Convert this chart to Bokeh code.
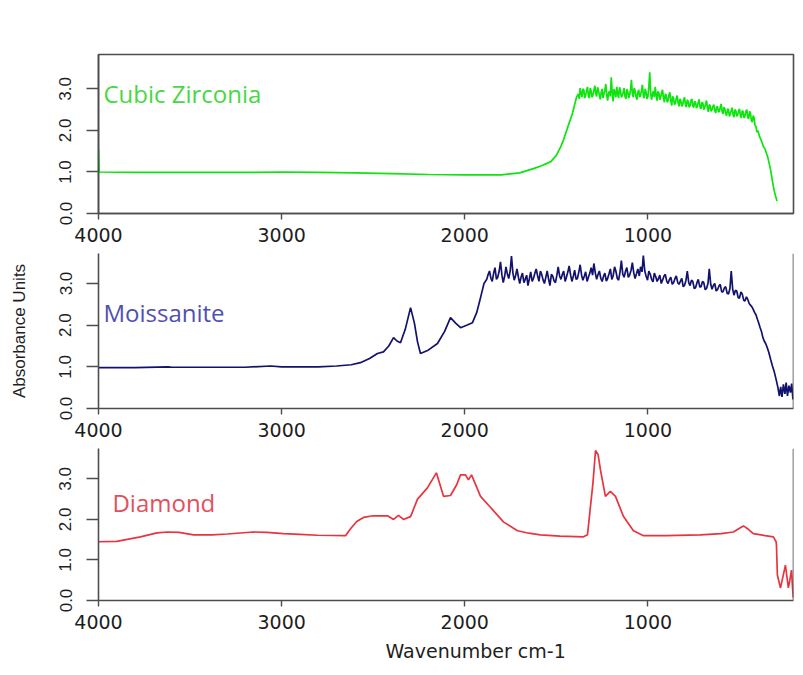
from bokeh.plotting import figure
from bokeh.layouts import column
from bokeh.models import Range1d, FixedTicker, Span, Label, Title
from bokeh.embed import file_html
from bokeh.resources import INLINE

# ---------------- data (wavenumber cm-1, absorbance) ----------------
x_ticks = [1000, 2000, 3000, 4000]
y_ticks = [0, 1, 2, 3]
y_tick_labels = ["0.0", "1.0", "2.0", "3.0"]

series_names = ["Cubic Zirconia", "Moissanite", "Diamond"]
x_title = "Wavenumber cm-1"
y_title = "Absorbance Units"

cz_points = [
    (4000, 1.55), (3996, 1.0), (3800, 0.99), (3600, 0.99), (3400, 0.99), (3200, 0.99),
    (3000, 1.0), (2800, 0.99), (2600, 0.98), (2400, 0.96), (2200, 0.94), (2000, 0.93),
    (1900, 0.93), (1800, 0.93), (1700, 0.98), (1625, 1.08), (1580, 1.15), (1530, 1.25),
    (1500, 1.4), (1477, 1.6), (1460, 1.78), (1440, 2.05), (1412, 2.41), (1390, 2.8),
    (1380, 2.88), (1375, 2.76), (1370, 3.02), (1365, 2.90), (1360, 2.80), (1355, 3.00),
    (1350, 2.98), (1345, 2.78), (1340, 2.85), (1335, 2.95), (1330, 3.05), (1325, 2.84),
    (1320, 2.78), (1315, 3.02), (1310, 2.95), (1305, 2.80), (1300, 2.86), (1295, 2.96),
    (1290, 3.08), (1285, 2.90), (1280, 2.82), (1275, 3.04), (1270, 2.97), (1265, 2.84),
    (1260, 2.75), (1255, 2.92), (1250, 3.00), (1245, 2.78), (1240, 2.88), (1235, 2.96),
    (1230, 3.12), (1225, 2.86), (1220, 2.72), (1215, 2.90), (1210, 2.95), (1205, 2.82),
    (1200, 3.28), (1195, 2.92), (1190, 2.70), (1185, 3.00), (1180, 2.92), (1175, 2.80),
    (1170, 3.05), (1165, 2.88), (1160, 2.78), (1155, 3.04), (1150, 2.96), (1145, 2.80),
    (1140, 2.84), (1135, 2.92), (1130, 3.02), (1125, 2.82), (1120, 2.76), (1115, 3.00),
    (1110, 2.94), (1105, 2.78), (1100, 2.85), (1095, 2.98), (1090, 3.22), (1085, 2.90),
    (1080, 2.80), (1075, 3.02), (1070, 2.96), (1065, 2.82), (1060, 2.74), (1055, 2.92),
    (1050, 2.98), (1045, 2.80), (1040, 2.86), (1035, 2.96), (1030, 3.10), (1025, 2.84),
    (1020, 2.78), (1015, 3.00), (1010, 2.92), (1005, 2.76), (1000, 2.82), (995, 3.05),
    (990, 3.40), (985, 2.90), (980, 2.74), (975, 2.88), (970, 2.95), (965, 2.80),
    (960, 3.05), (955, 2.86), (950, 2.72), (945, 2.94), (940, 2.90), (935, 2.74),
    (930, 2.80), (925, 2.92), (920, 2.98), (915, 2.78), (910, 2.68), (905, 2.88),
    (900, 2.85), (895, 2.68), (890, 2.72), (885, 2.86), (880, 2.92), (875, 2.72),
    (870, 2.60), (865, 2.82), (860, 2.78), (855, 2.62), (850, 2.66), (845, 2.78),
    (840, 2.84), (835, 2.66), (830, 2.58), (825, 2.76), (820, 2.72), (815, 2.58),
    (810, 2.62), (805, 2.74), (800, 2.80), (795, 2.62), (790, 2.56), (785, 2.74),
    (780, 2.70), (775, 2.56), (770, 2.60), (765, 2.72), (760, 2.76), (755, 2.60),
    (750, 2.55), (745, 2.70), (740, 2.68), (735, 2.54), (730, 2.58), (725, 2.68),
    (720, 2.75), (715, 2.56), (710, 2.52), (705, 2.68), (700, 2.66), (695, 2.50),
    (690, 2.56), (685, 2.64), (680, 2.72), (675, 2.54), (670, 2.45), (665, 2.62),
    (660, 2.60), (655, 2.46), (650, 2.50), (645, 2.58), (640, 2.62), (635, 2.48),
    (630, 2.42), (625, 2.56), (620, 2.58), (615, 2.44), (610, 2.46), (605, 2.56),
    (600, 2.64), (595, 2.46), (590, 2.40), (585, 2.56), (580, 2.52), (575, 2.40),
    (570, 2.36), (565, 2.52), (560, 2.50), (555, 2.34), (550, 2.40), (545, 2.48),
    (540, 2.55), (535, 2.38), (530, 2.32), (525, 2.50), (520, 2.48), (515, 2.34),
    (510, 2.38), (505, 2.46), (500, 2.52), (495, 2.36), (490, 2.30), (485, 2.48),
    (480, 2.45), (475, 2.30), (470, 2.35), (465, 2.46), (460, 2.50), (455, 2.32),
    (450, 2.28), (445, 2.46), (440, 2.42), (435, 2.24), (430, 2.20), (425, 2.36),
    (420, 2.30), (415, 2.12), (410, 2.10), (405, 1.96), (400, 2.00), (390, 1.85),
    (380, 1.75), (370, 1.62), (360, 1.55), (345, 1.35), (330, 1.05), (315, 0.65),
    (305, 0.45), (295, 0.30),
]

mo_points = [
    (4000, 0.98), (3800, 0.98), (3620, 1.0), (3600, 0.99), (3400, 0.99), (3200, 0.99),
    (3060, 1.02), (3000, 1.0), (2800, 1.0), (2700, 1.02), (2620, 1.05), (2570, 1.1),
    (2520, 1.2), (2477, 1.32), (2444, 1.36), (2415, 1.5), (2389, 1.70), (2370, 1.62),
    (2351, 1.58), (2325, 1.9), (2296, 2.42), (2275, 2.05), (2258, 1.6), (2242, 1.32),
    (2200, 1.4), (2149, 1.56), (2110, 1.85), (2078, 2.18), (2050, 2.05), (2023, 1.94),
    (1990, 2.0), (1958, 2.06), (1935, 2.3), (1914, 2.66), (1895, 3.0),
    (1880, 3.10), (1872, 3.22), (1865, 3.30), (1857, 3.12), (1850, 3.05), (1842, 3.26),
    (1835, 3.38), (1827, 3.10), (1820, 3.15), (1812, 3.30), (1805, 3.52), (1797, 3.20),
    (1790, 3.02), (1782, 3.18), (1775, 3.40), (1767, 3.22), (1760, 3.12), (1752, 3.30),
    (1745, 3.66), (1737, 3.25), (1730, 3.08), (1722, 3.20), (1715, 3.35), (1707, 3.15),
    (1700, 3.00), (1692, 3.16), (1685, 3.25), (1677, 3.02), (1670, 3.10), (1662, 3.20),
    (1655, 2.95), (1647, 3.12), (1640, 3.28), (1632, 3.05), (1625, 3.12), (1617, 3.25),
    (1610, 3.35), (1602, 3.18), (1595, 3.05), (1587, 3.30), (1580, 3.22), (1572, 3.08),
    (1565, 3.00), (1557, 3.16), (1550, 3.30), (1542, 3.10), (1535, 2.95), (1527, 3.22),
    (1520, 3.18), (1512, 3.06), (1505, 3.02), (1497, 3.20), (1490, 3.40), (1482, 3.18),
    (1475, 3.10), (1467, 3.22), (1460, 3.30), (1452, 3.05), (1445, 3.15), (1437, 3.28),
    (1430, 3.42), (1422, 3.20), (1415, 3.05), (1407, 3.18), (1400, 3.32), (1392, 3.10),
    (1385, 3.12), (1377, 3.28), (1370, 3.45), (1362, 3.20), (1355, 3.08), (1347, 3.18),
    (1340, 3.28), (1332, 3.05), (1325, 3.15), (1317, 3.25), (1310, 3.38), (1302, 3.20),
    (1295, 3.48), (1287, 3.25), (1280, 3.10), (1272, 3.22), (1265, 3.30), (1257, 3.12),
    (1250, 3.05), (1242, 3.18), (1235, 3.25), (1227, 3.06), (1220, 3.12), (1212, 3.24),
    (1205, 3.35), (1197, 3.10), (1190, 3.18), (1182, 3.40), (1175, 3.30), (1167, 3.12),
    (1160, 3.08), (1152, 3.28), (1145, 3.55), (1137, 3.22), (1130, 3.15), (1122, 3.30),
    (1115, 3.38), (1107, 3.15), (1100, 3.20), (1092, 3.32), (1085, 3.50), (1077, 3.25),
    (1070, 3.12), (1062, 3.24), (1055, 3.35), (1047, 3.18), (1040, 3.40), (1032, 3.28),
    (1025, 3.67), (1017, 3.30), (1010, 3.18), (1002, 3.08), (995, 3.30), (987, 3.22),
    (980, 3.10), (972, 3.04), (965, 3.25), (957, 3.16), (950, 3.05), (942, 3.12),
    (935, 3.20), (927, 3.00), (920, 3.08), (912, 3.18), (905, 3.22), (897, 3.05),
    (890, 3.00), (882, 3.10), (875, 3.15), (867, 2.98), (860, 3.02), (852, 3.12),
    (845, 3.18), (837, 3.02), (830, 2.98), (822, 3.06), (815, 3.12), (807, 2.92),
    (800, 2.96), (792, 3.08), (785, 3.30), (777, 3.02), (770, 2.95), (762, 3.08),
    (755, 3.05), (747, 2.88), (740, 2.90), (732, 3.02), (725, 3.10), (717, 2.92),
    (710, 2.92), (702, 3.05), (695, 3.02), (687, 2.85), (680, 2.88), (672, 3.00),
    (665, 3.35), (657, 2.98), (650, 2.86), (642, 2.96), (635, 3.00), (627, 2.82),
    (620, 2.85), (612, 2.94), (605, 2.98), (597, 2.80), (590, 2.80), (582, 2.90),
    (575, 2.92), (567, 2.76), (560, 2.75), (552, 2.88), (545, 3.30), (537, 2.86),
    (530, 2.72), (522, 2.84), (515, 2.82), (507, 2.66), (500, 2.65), (492, 2.80),
    (485, 2.75), (477, 2.60), (470, 2.58), (462, 2.68), (455, 2.62), (447, 2.52),
    (440, 2.48), (432, 2.44), (425, 2.38), (417, 2.30), (410, 2.25), (402, 2.14),
    (395, 2.05), (387, 1.94), (380, 1.85), (372, 1.70), (365, 1.62), (357, 1.56),
    (350, 1.48), (340, 1.35), (330, 1.18), (320, 1.02), (310, 0.88), (300, 0.70),
    (290, 0.50), (282, 0.30), (275, 0.52), (268, 0.28), (260, 0.58), (252, 0.35),
    (245, 0.62), (238, 0.30), (230, 0.55), (222, 0.38), (215, 0.60), (208, 0.22),
]

di_points = [
    (4000, 1.45), (3900, 1.46), (3771, 1.57), (3680, 1.67), (3623, 1.69), (3560, 1.68),
    (3481, 1.62), (3380, 1.62), (3296, 1.64), (3154, 1.69), (3080, 1.68), (2990, 1.65),
    (2900, 1.63), (2804, 1.61), (2651, 1.60), (2624, 1.77), (2590, 1.95), (2553, 2.05),
    (2500, 2.09), (2422, 2.09), (2389, 2.0), (2362, 2.1), (2335, 2.0), (2296, 2.07),
    (2258, 2.5), (2204, 2.78), (2155, 3.15), (2116, 2.57), (2078, 2.59), (2045, 2.85),
    (2023, 3.1), (1996, 3.1), (1980, 2.98), (1963, 3.1), (1914, 2.57), (1860, 2.3),
    (1789, 1.94), (1712, 1.72), (1650, 1.66), (1587, 1.62), (1480, 1.59), (1352, 1.57),
    (1330, 1.62), (1300, 2.9), (1286, 3.7), (1272, 3.6), (1259, 3.22), (1232, 2.57),
    (1205, 2.69), (1177, 2.57), (1134, 2.08), (1079, 1.72), (1024, 1.6), (900, 1.6),
    (713, 1.62), (600, 1.65), (533, 1.69), (500, 1.78), (478, 1.84), (450, 1.75),
    (424, 1.65), (360, 1.6), (315, 1.57), (300, 1.45), (298, 1.36), (293, 0.63),
    (276, 0.31), (262, 0.6), (249, 0.87), (240, 0.55), (233, 0.31), (225, 0.5),
    (216, 0.75), (210, 0.3), (206, 0.07),
]

# ---------------- styling ----------------
AXIS = "#4d4d4d"
TICKTXT = "#1e1e1e"
line_colors = ["#0ee40e", "#12126e", "#e8343e"]
label_colors = ["#46d846", "#5050b4", "#e2505e"]
label_pos = [(3973, 2.90), (3973, 2.30), (3924, 2.42)]
frame_h = [159, 155, 155]
border_top = [54, 0, 0]
border_bottom = [40, 40, 64]
y_max = [3.83, 3.72, 3.75]
X_START, X_END = 4000, 205


def make_panel(i, pts):
    p = figure(width=795, height=border_top[i] + frame_h[i] + border_bottom[i],
               x_range=Range1d(X_START, X_END), y_range=Range1d(0, y_max[i]),
               output_backend="svg", toolbar_location=None,
               min_border_left=98, min_border_right=2,
               min_border_top=border_top[i], min_border_bottom=border_bottom[i])
    p.grid.visible = False
    p.background_fill_color = "white"
    p.border_fill_color = "white"

    xa = p.xaxis[0]
    xa.ticker = FixedTicker(ticks=x_ticks)
    xa.major_tick_out = 6
    xa.major_tick_in = 0
    xa.minor_tick_line_color = None
    xa.axis_line_color = AXIS
    xa.axis_line_width = 1.6
    xa.major_tick_line_color = AXIS
    xa.major_tick_line_width = 1.4
    xa.major_label_text_font = "DejaVu Sans"
    xa.major_label_text_font_size = "19px"
    xa.major_label_text_color = TICKTXT
    xa.major_label_standoff = 8

    ya = p.yaxis[0]
    ya.ticker = FixedTicker(ticks=y_ticks)
    ya.major_label_overrides = {t: s for t, s in zip(y_ticks, y_tick_labels)}
    ya.major_tick_out = 12
    ya.major_tick_in = 0
    ya.minor_tick_line_color = None
    ya.axis_line_color = AXIS
    ya.axis_line_width = 1.6
    ya.major_tick_line_color = AXIS
    ya.major_tick_line_width = 1.4
    ya.major_label_orientation = "vertical"
    ya.major_label_text_font = "Liberation Sans"
    ya.major_label_text_font_size = "17px"
    ya.major_label_text_color = TICKTXT
    ya.major_label_standoff = 15

    if i == 0:
        p.outline_line_color = AXIS
        p.outline_line_width = 1.6
    else:
        p.outline_line_color = None
        p.add_layout(Span(location=X_END, dimension="height",
                          line_color=AXIS, line_width=1.6))

    xs = [a for a, b in pts]
    ys = [b for a, b in pts]
    p.line(xs, ys, line_color=line_colors[i], line_width=1.7)

    lx, ly = label_pos[i]
    p.add_layout(Label(x=lx, y=ly, text=series_names[i], text_baseline="middle",
                       text_align="left", text_font="Open Sans",
                       text_font_size="24px", text_color=label_colors[i]))
    return p


p1 = make_panel(0, cz_points)
p2 = make_panel(1, mo_points)
p3 = make_panel(2, di_points)

ya2 = p2.yaxis[0]
ya2.axis_label = y_title
ya2.axis_label_text_font = "Liberation Sans"
ya2.axis_label_text_font_size = "17px"
ya2.axis_label_text_font_style = "normal"
ya2.axis_label_text_color = TICKTXT
ya2.axis_label_standoff = 28

p3.add_layout(Title(text=x_title, align="left", offset=287, standoff=12,
                    text_font="DejaVu Sans", text_font_size="19px",
                    text_font_style="normal", text_color=TICKTXT), "below")

layout = column(p1, p2, p3, spacing=0)
open("out.html", "w").write(file_html(layout, INLINE))
